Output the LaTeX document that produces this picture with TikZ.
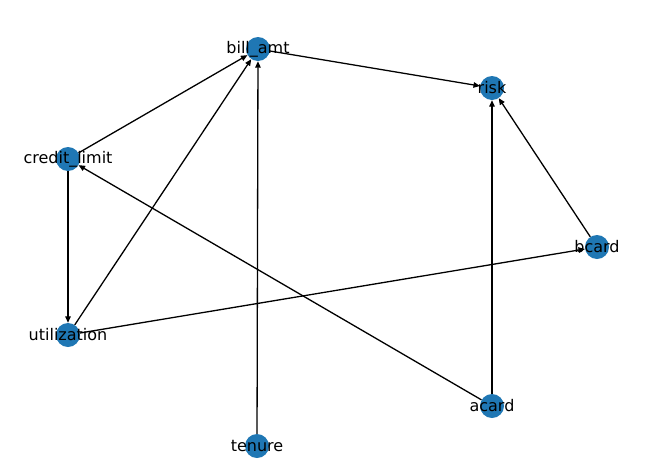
\documentclass[tikz,border=0pt]{standalone}
\usepackage{fontspec}
\setmainfont{DejaVu Sans}
\usetikzlibrary{arrows.meta,backgrounds}
\tikzset{
  var/.style={circle,fill=nxblue,minimum size=24pt,inner sep=0pt,
    label={[font=\fontsize{16}{19}\selectfont,text=black]center:#1}},
  edge/.style={-{Triangle[length=6.5pt,width=5.5pt]},line width=1.3pt}
}
\definecolor{nxblue}{HTML}{1F77B4}
\begin{document}
\begin{tikzpicture}[x=1pt,y=1pt]
\useasboundingbox (0,0) rectangle (646,-472);
\node[var=bill\_amt] (bill) at (258,-49) {};
\node[var=risk] (risk) at (492,-88) {};
\node[var=credit\_limit] (cred) at (68,-159) {};
\node[var=bcard] (bcard) at (597,-247) {};
\node[var=utilization] (util) at (68,-335) {};
\node[var=acard] (acard) at (492,-406) {};
\node[var=tenure] (ten) at (257,-446) {};
\begin{scope}[on background layer]
\draw[edge] (bill) -- (risk); \draw[edge] (cred) -- (bill); \draw[edge] (util) -- (bill);
\draw[edge] (ten) -- (bill); \draw[edge] (cred) -- (util); \draw[edge] (util) -- (bcard);
\draw[edge] (acard) -- (cred); \draw[edge] (acard) -- (risk); \draw[edge] (bcard) -- (risk);
\end{scope}
\end{tikzpicture}
\end{document}
